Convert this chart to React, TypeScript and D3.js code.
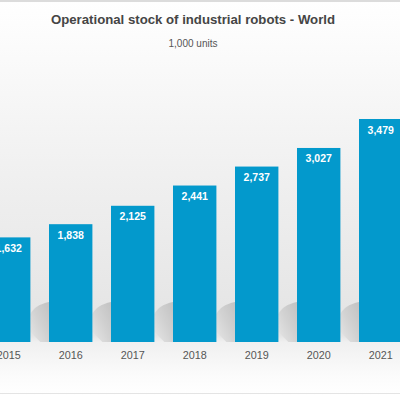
import { useEffect, useRef } from "react";
import { select, scaleBand, scaleLinear, max } from "d3";

const years = ["2015", "2016", "2017", "2018", "2019", "2020", "2021"];
const stock = [1632, 1838, 2125, 2441, 2737, 3027, 3479];
const valueLabels = ["1,632", "1,838", "2,125", "2,441", "2,737", "3,027", "3,479"];

const title = "Operational stock of industrial robots - World";
const subtitle = "1,000 units";

const W = 400;
const H = 395;

const App = () => {
  const svgRef = useRef<SVGSVGElement>(null);

  useEffect(() => {
    const svg = select(svgRef.current);
    svg.selectAll("*").remove();
    const font = "'Liberation Sans', Arial, sans-serif";

    // gradients
    const defs = svg.append("defs");
    const bg = defs.append("linearGradient").attr("id", "bg").attr("x1", 0).attr("y1", 0).attr("x2", 0).attr("y2", 1);
    bg.append("stop").attr("offset", "0").attr("stop-color", "#ffffff");
    bg.append("stop").attr("offset", "0.12").attr("stop-color", "#fbfbfb");
    bg.append("stop").attr("offset", "0.5").attr("stop-color", "#eeeeee");
    bg.append("stop").attr("offset", "0.85").attr("stop-color", "#e4e4e4");
    bg.append("stop").attr("offset", "0.866").attr("stop-color", "#f0f0f0");
    bg.append("stop").attr("offset", "0.95").attr("stop-color", "#fbfbfb");
    bg.append("stop").attr("offset", "1").attr("stop-color", "#ffffff");

    const sh = defs.append("linearGradient").attr("id", "shadow").attr("x1", 1).attr("y1", 0).attr("x2", 0).attr("y2", 1);
    sh.append("stop").attr("offset", "0").attr("stop-color", "#c2c2c2");
    sh.append("stop").attr("offset", "0.5").attr("stop-color", "#d2d2d2");
    sh.append("stop").attr("offset", "1").attr("stop-color", "#e6e6e6");

    svg.append("rect").attr("width", W).attr("height", H).attr("fill", "url(#bg)");
    svg.append("line").attr("x1", 0).attr("x2", W).attr("y1", 1).attr("y2", 1)
      .attr("stroke", "#d0d0d0").attr("stroke-width", 1.5);
    svg.append("line").attr("x1", 0).attr("x2", W).attr("y1", 393.5).attr("y2", 393.5)
      .attr("stroke", "#e4e4e4").attr("stroke-width", 1);

    const baseY = 342;
    const xScale = scaleBand<string>()
      .domain(years)
      .range([-22.3, 411.7])
      .paddingInner(0.3)
      .paddingOuter(0.15);
    const yScale = scaleLinear()
      .domain([0, max(stock) as number])
      .range([baseY, 119]);

    const bw = xScale.bandwidth();
    const gap = xScale.step() - bw;

    // floor shadows in the gaps
    svg.selectAll(".shadow")
      .data(years)
      .enter()
      .append("path")
      .attr("fill", "url(#shadow)")
      .attr("d", (d) => {
        const l = (xScale(d) as number) + bw;
        const r = l + gap;
        return `M${l},${baseY - 28} C${l + 3},${baseY - 34} ${l + 9},${baseY - 38} ${r},${baseY - 40}` +
          ` L${r},${baseY} L${l + 10},${baseY} L${l},${baseY - 10} Z`;
      });

    // bars
    svg.selectAll(".bar")
      .data(stock)
      .enter()
      .append("rect")
      .attr("x", (_, i) => xScale(years[i]) as number)
      .attr("y", (d) => yScale(d))
      .attr("width", bw)
      .attr("height", (d) => baseY - yScale(d))
      .attr("fill", "#0399cc");

    // value labels
    svg.selectAll(".val")
      .data(stock)
      .enter()
      .append("text")
      .attr("x", (_, i) => (xScale(years[i]) as number) + bw / 2)
      .attr("y", (d) => yScale(d) + 14.5)
      .attr("text-anchor", "middle")
      .attr("font-family", font)
      .attr("font-weight", "bold")
      .attr("font-size", 10.5)
      .attr("fill", "#ffffff")
      .text((_, i) => valueLabels[i]);

    // year labels
    svg.selectAll(".year")
      .data(years)
      .enter()
      .append("text")
      .attr("x", (d) => (xScale(d) as number) + bw / 2)
      .attr("y", 359)
      .attr("text-anchor", "middle")
      .attr("font-family", font)
      .attr("font-size", 10.8)
      .attr("fill", "#555555")
      .text((d) => d);

    // titles
    svg.append("text")
      .attr("x", 193)
      .attr("y", 24)
      .attr("text-anchor", "middle")
      .attr("font-family", font)
      .attr("font-weight", "bold")
      .attr("font-size", 13.2)
      .attr("fill", "#454545")
      .text(title);
    svg.append("text")
      .attr("x", 193)
      .attr("y", 47)
      .attr("text-anchor", "middle")
      .attr("font-family", font)
      .attr("font-size", 10)
      .attr("fill", "#555555")
      .text(subtitle);
  }, []);

  return (
    <svg
      ref={svgRef}
      width={W}
      height={H}
      style={{ position: "absolute", left: 0, top: 0, display: "block" }}
    />
  );
};

export default App;
